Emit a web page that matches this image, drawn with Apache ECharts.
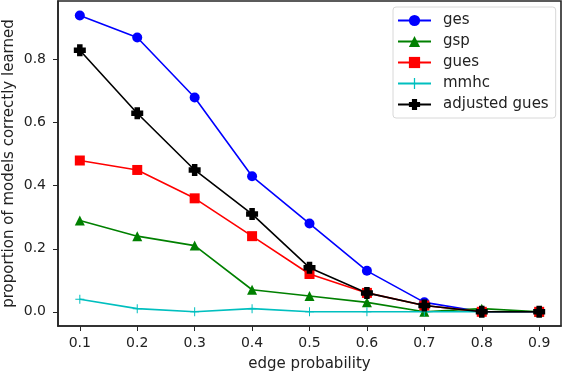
<!DOCTYPE html>
<html>
<head>
  <meta charset="utf-8">
  <title>edge probability chart</title>
  <script src="https://cdn.jsdelivr.net/npm/echarts@6/dist/echarts.min.js"></script>
  <style>
    html, body { margin: 0; padding: 0; background: #fff; }
    #main { width: 562px; height: 372px; }
  </style>
</head>
<body>
  <div id="main"></div>
  <script type="text/javascript">
    // data
    var edgeProb = [0.1, 0.2, 0.3, 0.4, 0.5, 0.6, 0.7, 0.8, 0.9];
    var ges      = [0.94, 0.87, 0.68, 0.43, 0.28, 0.13, 0.03, 0.00, 0.00];
    var gsp      = [0.29, 0.24, 0.21, 0.07, 0.05, 0.03, 0.00, 0.01, 0.00];
    var gues     = [0.48, 0.45, 0.36, 0.24, 0.12, 0.06, 0.02, 0.00, 0.00];
    var mmhc     = [0.04, 0.01, 0.00, 0.01, 0.00, 0.00, 0.00, 0.00, 0.00];
    var adjGues  = [0.83, 0.63, 0.45, 0.31, 0.14, 0.06, 0.02, 0.00, 0.00];
    var yTicks   = [0.0, 0.2, 0.4, 0.6, 0.8];

    var FONT = 'DejaVu Sans';
    var plusThin = 'path://M4,0H5V4H9V5H5V9H4V5H0V4H4Z';
    var plusFat  = 'path://M1.35,0H3.65V1.35H5V3.65H3.65V5H1.35V3.65H0V1.35H1.35Z';

    function pairs(ys) {
      var out = [];
      for (var i = 0; i < edgeProb.length; i++) out.push([edgeProb[i], ys[i]]);
      return out;
    }

    function line(name, ys, color, symbol, size) {
      return {
        name: name,
        type: 'line',
        data: pairs(ys),
        symbol: symbol,
        symbolSize: size,
        symbolKeepAspect: true,
        showAllSymbol: true,
        lineStyle: { color: color, width: 1.6 },
        itemStyle: { color: color, borderWidth: 0 },
        emphasis: { disabled: true },
        animation: false
      };
    }

    var chart = echarts.init(document.getElementById('main'));
    var option = {
      backgroundColor: '#fff',
      textStyle: { fontFamily: FONT },
      grid: {
        left: 58, right: 1, top: 1, bottom: 46,
        containLabel: false, outerBoundsMode: 'none',
        show: true, borderColor: '#262626', borderWidth: 1.6, backgroundColor: 'transparent'
      },
      legend: {
        orient: 'vertical',
        left: 393, top: 7,
        padding: [6, 7, 6, 4],
        itemWidth: 33, itemHeight: 14, itemGap: 6,
        borderColor: '#d8d8d8', borderWidth: 1, borderRadius: 3,
        backgroundColor: '#fff',
        textStyle: { fontFamily: FONT, fontSize: 15, color: '#222', padding: [0, 0, 0, 7] },
        data: ['ges', 'gsp', 'gues', 'mmhc', 'adjusted gues']
      },
      xAxis: {
        type: 'value',
        min: 0.062, max: 0.938,
        name: 'edge probability',
        nameLocation: 'middle', nameGap: 31, nameMoveOverlap: false,
        nameTextStyle: { fontFamily: FONT, fontSize: 15, color: '#222' },
        axisLine: { show: true, onZero: false, lineStyle: { color: '#262626', width: 1.6 } },
        splitLine: { show: false },
        axisTick: { show: true, length: 5, lineStyle: { color: '#262626' }, customValues: edgeProb },
        axisLabel: {
          fontFamily: FONT, fontSize: 14, color: '#222', margin: 10,
          customValues: edgeProb,
          formatter: function (v) { return v.toFixed(1); }
        }
      },
      yAxis: {
        type: 'value',
        min: -0.045, max: 0.986,
        name: 'proportion of models correctly learned',
        nameLocation: 'middle', nameGap: 41, nameMoveOverlap: false,
        nameTextStyle: { fontFamily: FONT, fontSize: 15, color: '#222' },
        axisLine: { show: true, onZero: false, lineStyle: { color: '#262626', width: 1.6 } },
        splitLine: { show: false },
        axisTick: { show: true, length: 5, lineStyle: { color: '#262626' }, customValues: yTicks },
        axisLabel: {
          fontFamily: FONT, fontSize: 14, color: '#222', margin: 12,
          customValues: yTicks,
          formatter: function (v) { return v.toFixed(1); }
        }
      },
      series: [
        line('ges', ges, '#0000ff', 'circle', 10),
        line('gsp', gsp, '#008000', 'triangle', 10),
        line('gues', gues, '#ff0000', 'rect', 10),
        line('mmhc', mmhc, '#00bfbf', plusThin, 9),
        line('adjusted gues', adjGues, '#000000', plusFat, 12)
      ]
    };
    chart.setOption(option);
  </script>
</body>
</html>
